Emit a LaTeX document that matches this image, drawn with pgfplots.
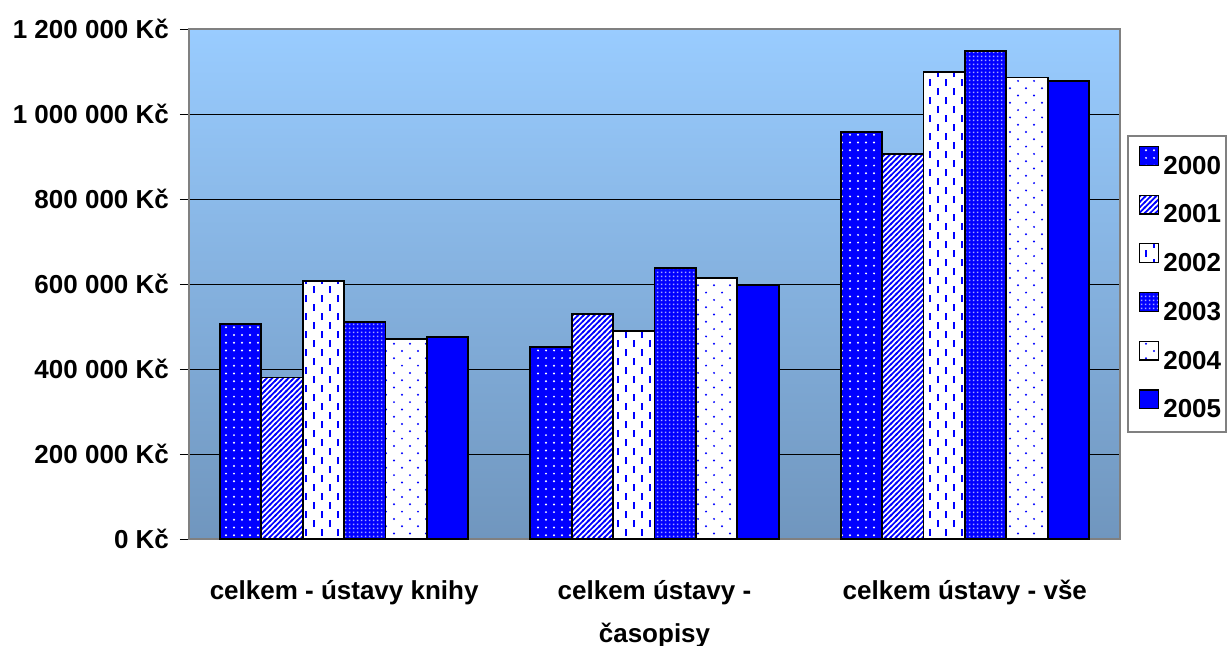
\documentclass[border=0pt]{standalone}
\usepackage{pgfplots}
\pgfplotsset{compat=1.18}
\usepackage{fontspec}
\setmainfont{Liberation Sans}
\usetikzlibrary{patterns}

\definecolor{xblue}{RGB}{0,0,255}
\definecolor{bgtop}{RGB}{153,204,255}
\definecolor{bgbot}{RGB}{112,150,190}
\definecolor{frame}{RGB}{128,128,128}

% 2000: white dots on blue
\pgfdeclarepatternformonly{dotsA}{\pgfqpoint{-1pt}{-1pt}}{\pgfqpoint{5pt}{5pt}}{\pgfqpoint{4pt}{3.85pt}}{%
  \pgfpathcircle{\pgfqpoint{1pt}{1pt}}{0.55pt}\pgfusepath{fill}}
% 2001: diagonal stripes
\pgfdeclarepatternformonly{stripesB}{\pgfqpoint{-1pt}{-1pt}}{\pgfqpoint{4pt}{4pt}}{\pgfqpoint{2.7pt}{2.7pt}}{%
  \pgfsetlinewidth{0.85pt}\pgfpathmoveto{\pgfqpoint{-0.4pt}{-0.4pt}}\pgfpathlineto{\pgfqpoint{3.1pt}{3.1pt}}\pgfusepath{stroke}}
% 2002: vertical dashes
\pgfdeclarepatternformonly{dashesC}{\pgfqpoint{-1pt}{-1pt}}{\pgfqpoint{9pt}{10pt}}{\pgfqpoint{8pt}{9pt}}{%
  \pgfsetlinewidth{1pt}%
  \pgfpathmoveto{\pgfqpoint{1pt}{0.5pt}}\pgfpathlineto{\pgfqpoint{1pt}{4pt}}%
  \pgfpathmoveto{\pgfqpoint{5pt}{5pt}}\pgfpathlineto{\pgfqpoint{5pt}{8.5pt}}%
  \pgfusepath{stroke}}
% 2003: dense white dots on blue
\pgfdeclarepatternformonly{denseD}{\pgfqpoint{0pt}{0pt}}{\pgfqpoint{2pt}{2pt}}{\pgfqpoint{2pt}{2pt}}{%
  \pgfpathrectangle{\pgfqpoint{0.5pt}{0.5pt}}{\pgfqpoint{0.95pt}{0.95pt}}\pgfusepath{fill}}
% 2004: sparse blue dots on white
\pgfdeclarepatternformonly{sparseE}{\pgfqpoint{-1pt}{-1pt}}{\pgfqpoint{9pt}{8.3pt}}{\pgfqpoint{8pt}{7.3pt}}{%
  \pgfpathcircle{\pgfqpoint{1pt}{1pt}}{0.55pt}\pgfusepath{fill}%
  \pgfpathcircle{\pgfqpoint{5pt}{4.65pt}}{0.55pt}\pgfusepath{fill}}

\pgfplotstableread{
x y2000 y2001 y2002 y2003 y2004 y2005
0 505000 380000 608000 510000 471000 475000
1 452000 529000 490000 638000 614000 598000
2 958000 905000 1098000 1148000 1086000 1077000
}\data

\begin{document}
\begin{tikzpicture}
\useasboundingbox (0,0) rectangle (615pt,322.5pt);
\begin{axis}[
  at={(94.5pt,53pt)}, anchor=south west,
  scale only axis, width=465.5pt, height=255pt,
  xmin=-0.5, xmax=2.5, ymin=0, ymax=1200000,
  scaled y ticks=false,
  ybar=0pt, bar width=20.7pt,
  xtick={0,1,2},
  xticklabels={celkem - ústavy knihy, {celkem ústavy -\\časopisy}, celkem ústavy - vše},
  ytick={0,200000,400000,600000,800000,1000000,1200000},
  yticklabels={0 Kč,200 000 Kč,400 000 Kč,600 000 Kč,800 000 Kč,1 000 000 Kč,1 200 000 Kč},
  ytick pos=left,
  ymajorgrids, grid style={black, line width=0.5pt},
  axis background/.style={top color=bgtop, bottom color=bgbot},
  axis line style={frame, line width=0.8pt},
  tick align=outside, major tick length=4.5pt,
  ytick style={black, line width=0.5pt},
  xtick style={draw=none},
  tick label style={font=\fontsize{13}{15}\selectfont\bfseries},
  xticklabel style={align=center, yshift=-12.5pt, font=\fontsize{13}{21.5}\selectfont\bfseries},
  yticklabel style={xshift=-2pt},
  legend style={at={(1,0.792)}, anchor=north west, xshift=3.5pt,
    draw=frame, line width=0.8pt, fill=white,
    inner xsep=2pt, inner ysep=5pt, row sep=8.15pt, column sep=1.5pt,
    font=\fontsize{13}{15}\selectfont\bfseries,
    nodes={inner xsep=0.5pt, inner ysep=2pt, text height=9.4pt, text depth=0pt}},
  legend cell align=left,
  legend image code/.code={\path (0pt,0pt); \draw[#1, line width=0.6pt] (3.5pt,-0.2pt) rectangle (13pt,9.2pt);},
  every axis plot/.append style={draw=black, line width=0.9pt},
]
\addplot[fill=xblue, postaction={pattern=dotsA, pattern color=white}] table[x=x,y=y2000]{\data};
\addplot[fill=white, postaction={pattern=stripesB, pattern color=xblue}] table[x=x,y=y2001]{\data};
\addplot[fill=white, postaction={pattern=dashesC, pattern color=xblue}] table[x=x,y=y2002]{\data};
\addplot[fill=xblue, postaction={pattern=denseD, pattern color=white!65!xblue}] table[x=x,y=y2003]{\data};
\addplot[fill=white, postaction={pattern=sparseE, pattern color=xblue}] table[x=x,y=y2004]{\data};
\addplot[fill=xblue] table[x=x,y=y2005]{\data};
\legend{2000,2001,2002,2003,2004,2005}
\end{axis}
\end{tikzpicture}
\end{document}
